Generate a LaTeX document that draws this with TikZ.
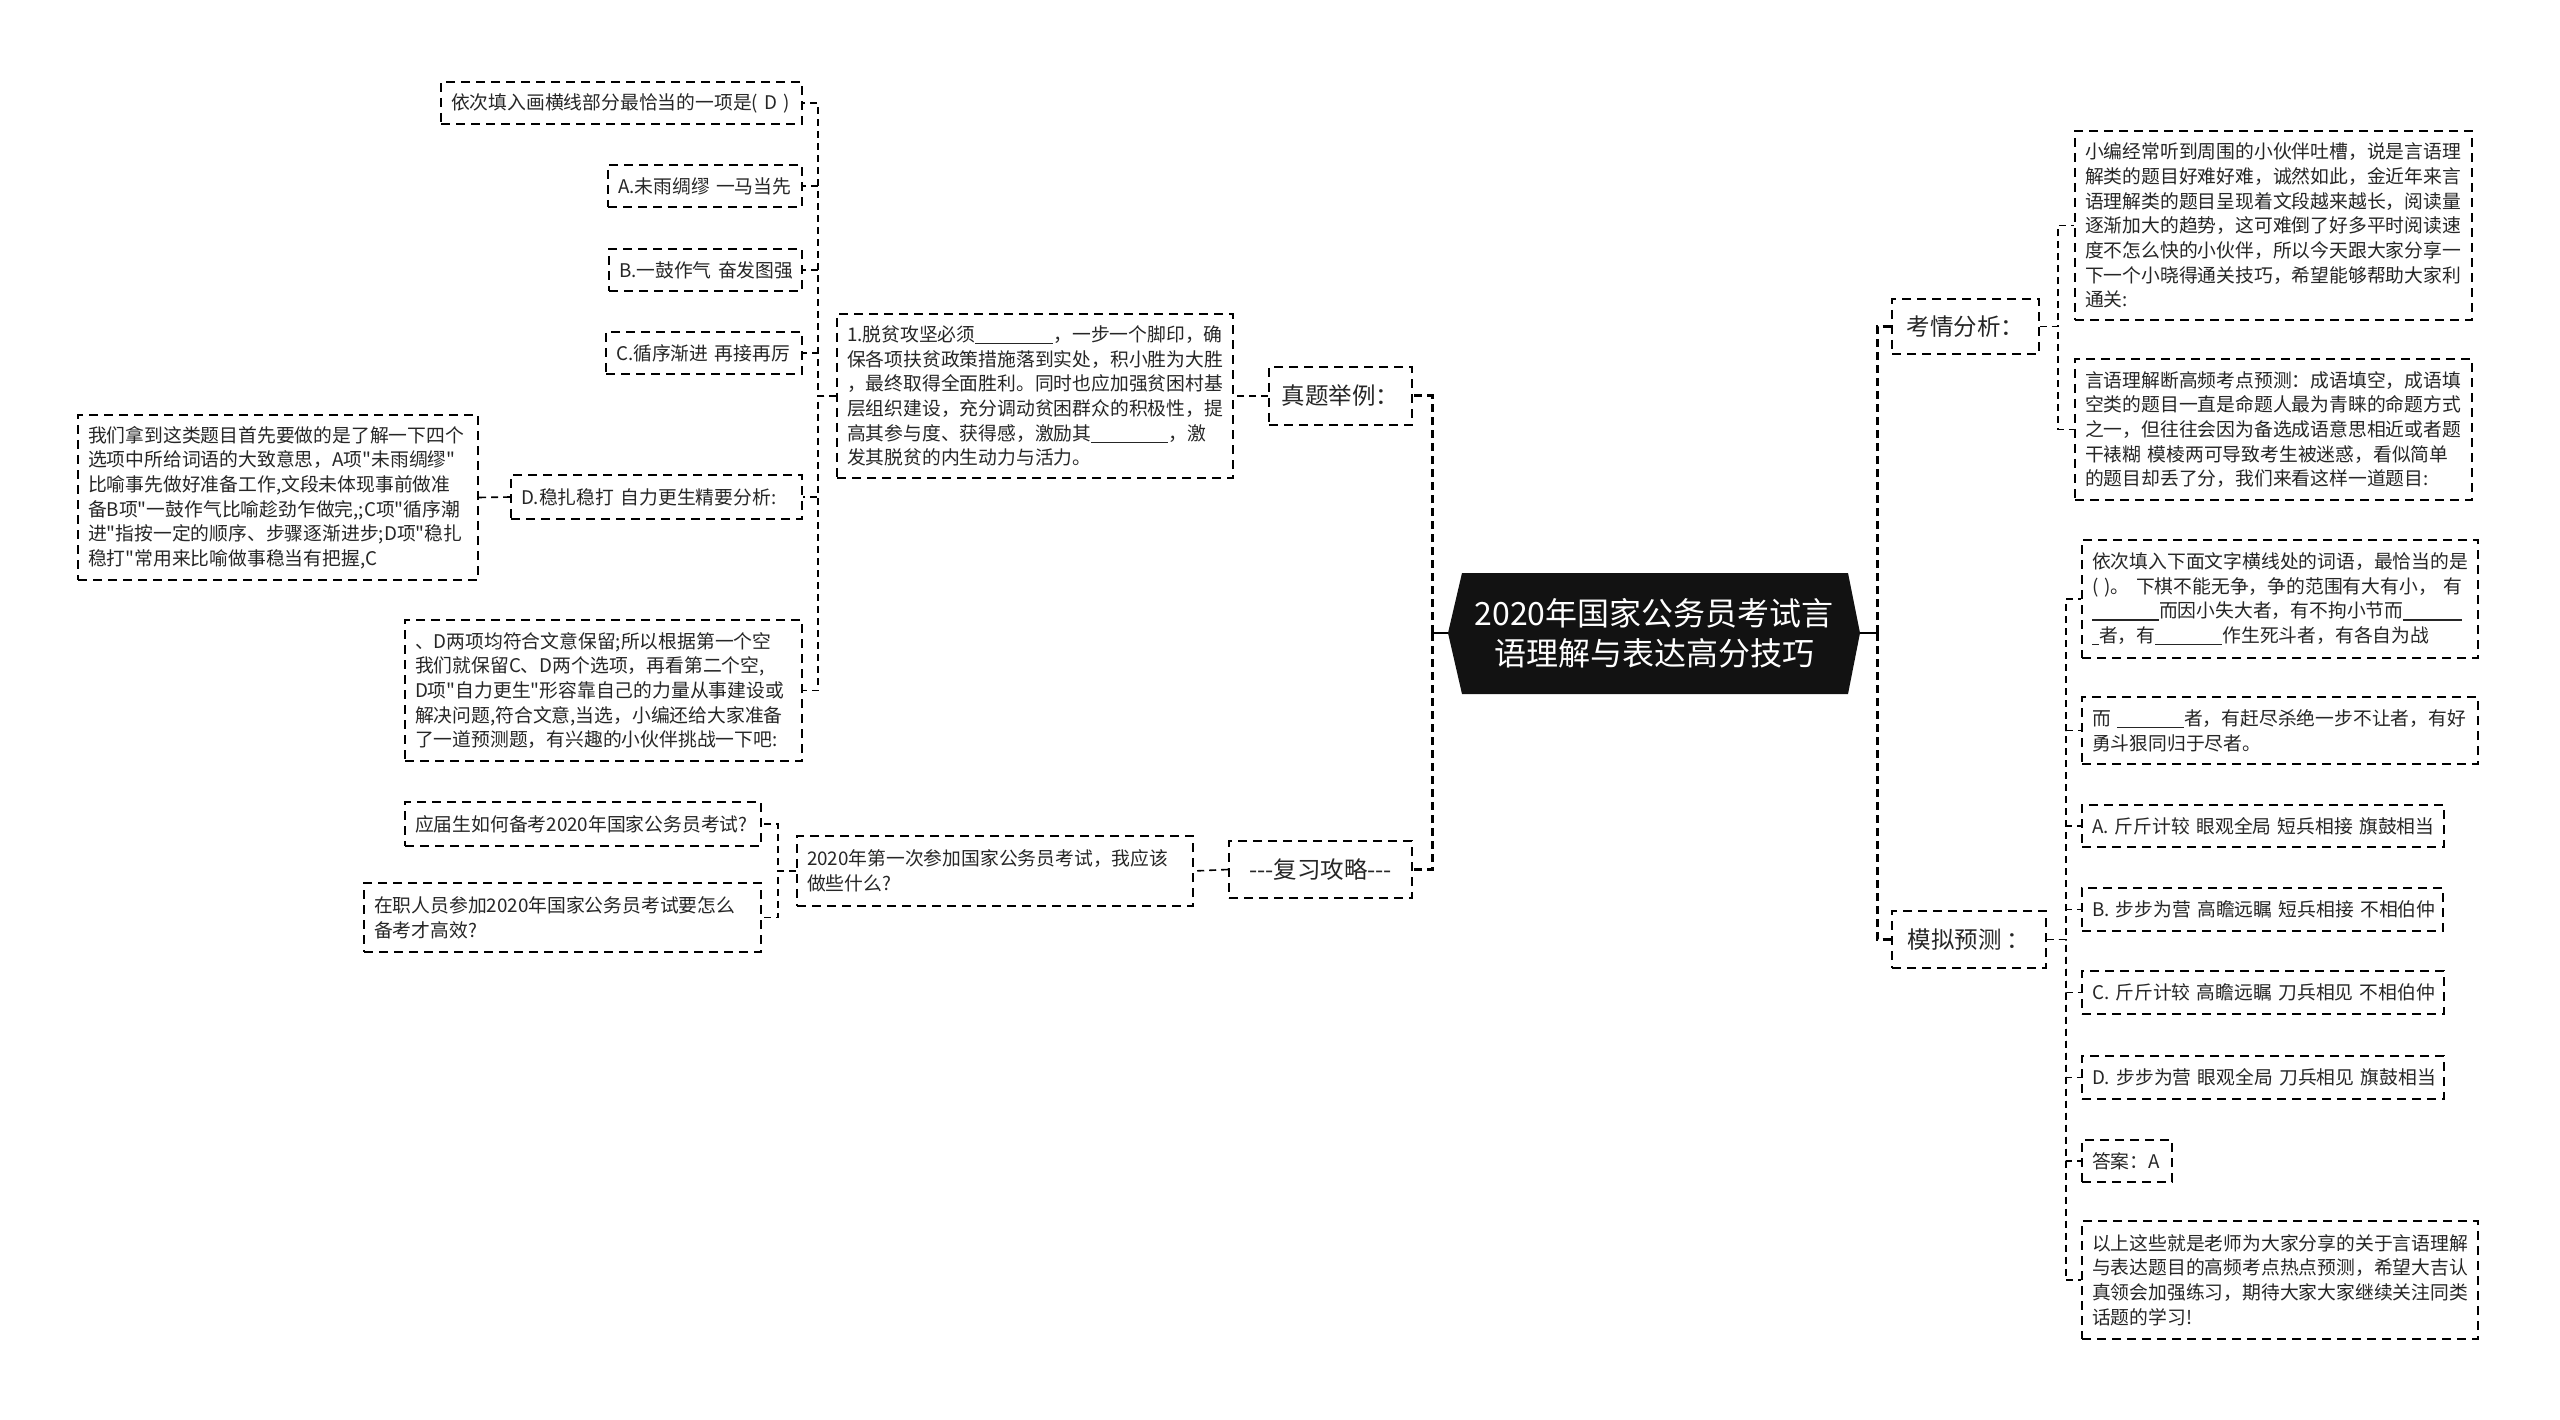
\documentclass[tikz,border=0pt]{standalone}
\usepackage{fontspec}
\setmainfont{Noto Sans CJK SC}
\newfontfamily\cjkf{Noto Sans CJK SC}
\newcommand{\blankln}[1]{\rule[-0.14em]{#1pt}{1.2pt}}
\begin{document}
\begin{tikzpicture}[x=1pt,y=-1pt,
  box/.style={draw=black, line width=1.6pt, dash pattern=on 9pt off 6pt, inner xsep=10pt, inner ysep=3pt,
    align=left, text=black!85, font=\cjkf\fontsize{18.8}{24.7}\selectfont},
  topic/.style={box, align=center, inner xsep=4pt, font=\cjkf\fontsize{23.5}{28}\selectfont},
  c2/.style={draw=black, line width=1.6pt, dash pattern=on 7pt off 5pt},
  c1/.style={draw=black, line width=3pt, dash pattern=on 8pt off 5pt},
  c0/.style={draw=black, line width=2.4pt}
]
\useasboundingbox (0,0) rectangle (2560,1420);
\fill[white] (0,0) rectangle (2560,1420);

% ---------- root ----------
\coordinate (rootW) at (1448,633);
\coordinate (rootE) at (1860,633);
\fill[black!93] (1462,573) -- (1848,573) -- (rootE) -- (1848,694) -- (1462,694) -- (rootW) -- cycle;
\node[font=\cjkf\fontsize{32}{40}\selectfont, text=white, align=center] (root) at (1654,633)
  {2020年国家公务员考试言\\语理解与表达高分技巧};

% ---------- left: 真题举例 ----------
\node[topic, minimum width=143pt, minimum height=58pt] (zt) at (1340.5,396) {真题举例：};
\node[box, text width=376pt, minimum height=164pt] (tp) at (1035,396)
  {1.脱贫攻坚必须\blankln{78}，一步一个脚印，确\\
   保各项扶贫政策措施落到实处，积小胜为大胜\\
   ，最终取得全面胜利。同时也应加强贫困村基\\
   层组织建设，充分调动贫困群众的积极性，提\\
   高其参与度、获得感，激励其\blankln{77}，激\\
   发其脱贫的内生动力与活力。};
\node[box, text width=341pt, minimum height=42pt] (q1) at (621.5,103) {\mbox{依次填入画横线部分最恰当的一项是( D )}};
\node[box, text width=174pt, minimum height=42pt] (qa) at (705,186) {\mbox{A.未雨绸缪 一马当先}};
\node[box, text width=173pt, minimum height=42pt] (qb) at (705.5,270) {\mbox{B.一鼓作气 奋发图强}};
\node[box, text width=176pt, minimum height=42pt] (qc) at (704,353) {\mbox{C.循序渐进 再接再厉}};
\node[box, text width=271pt, minimum height=44pt] (qd) at (656.5,497) {\mbox{D.稳扎稳打 自力更生精要分析:}};
\node[box, text width=380pt, minimum height=165pt] (an1) at (278,497.5)
  {我们拿到这类题目首先要做的是了解一下四个\\
   选项中所给词语的大致意思，A项"未雨绸缪"\\
   比喻事先做好准备工作,文段未体现事前做准\\
   备B项"一鼓作气比喻趁劲乍做完,;C项"循序潮\\
   进"指按一定的顺序、步骤逐渐进步;D项"稳扎\\
   稳打"常用来比喻做事稳当有把握,C};
\node[box, text width=377pt, minimum height=141pt] (an2) at (603.5,690.5)
  {、D两项均符合文意保留;所以根据第一个空\\
   我们就保留C、D两个选项，再看第二个空,\\
   D项"自力更生"形容靠自己的力量从事建设或\\
   解决问题,符合文意,当选，小编还给大家准备\\
   了一道预测题，有兴趣的小伙伴挑战一下吧:};

% ---------- left: 复习攻略 ----------
\node[topic, minimum width=183pt, minimum height=57pt] (fx) at (1320.5,869.5) {---复习攻略---};
\node[box, text width=376pt, minimum height=70pt] (fx1) at (995,871)
  {2020年第一次参加国家公务员考试，我应该\\做些什么?};
\node[box, text width=336pt, minimum height=44pt] (fx2) at (583,824) {\mbox{应届生如何备考2020年国家公务员考试?}};
\node[box, text width=377pt, minimum height=69pt] (fx3) at (562.5,917.5)
  {在职人员参加2020年国家公务员考试要怎么\\备考才高效?};

% ---------- right: 考情分析 ----------
\node[topic, minimum width=147pt, minimum height=55pt] (kq) at (1965.5,326.5) {考情分析：};
\node[box, text width=377pt, minimum height=189pt] (kq1) at (2273.5,225.5)
  {小编经常听到周围的小伙伴吐槽，说是言语理\\
   解类的题目好难好难，诚然如此，金近年来言\\
   语理解类的题目呈现着文段越来越长，阅读量\\
   逐渐加大的趋势，这可难倒了好多平时阅读速\\
   度不怎么快的小伙伴，所以今天跟大家分享一\\
   下一个小晓得通关技巧，希望能够帮助大家利\\
   通关:};
\node[box, text width=377pt, minimum height=141pt] (kq2) at (2273.5,429.5)
  {言语理解断高频考点预测：成语填空，成语填\\
   空类的题目一直是命题人最为青睐的命题方式\\
   之一，但往往会因为备选成语意思相近或者题\\
   \mbox{干裱糊 模棱两可导致考生被迷惑，看似简单}\\
   的题目却丢了分，我们来看这样一道题目:};

% ---------- right: 模拟预测 ----------
\node[topic, minimum width=154pt, minimum height=57pt] (mn) at (1969,939.5) {模拟预测 ：};
\node[box, text width=376pt, minimum height=118pt] (m1) at (2280,599)
  {依次填入下面文字横线处的词语，最恰当的是\\
   \mbox{( )。 下棋不能无争，争的范围有大有小， 有}\\
   \blankln{67}而因小失大者，有不拘小节而\blankln{59}\\
   \blankln{7}者，有\blankln{67}作生死斗者，有各自为战};
\node[box, text width=376pt, minimum height=67pt] (m2) at (2280,730.5)
  {\mbox{而 \blankln{67}者，有赶尽杀绝一步不让者，有好}\\勇斗狠同归于尽者。};
\node[box, text width=342pt, minimum height=42pt] (ma) at (2263,826) {\mbox{A. 斤斤计较 眼观全局 短兵相接 旗鼓相当}};
\node[box, text width=341pt, minimum height=43pt] (mb) at (2262.5,909.5) {\mbox{B. 步步为营 高瞻远瞩 短兵相接 不相伯仲}};
\node[box, text width=342pt, minimum height=43pt] (mc) at (2263,992.5) {\mbox{C. 斤斤计较 高瞻远瞩 刀兵相见 不相伯仲}};
\node[box, text width=342pt, minimum height=43pt] (md) at (2263,1077.5) {\mbox{D. 步步为营 眼观全局 刀兵相见 旗鼓相当}};
\node[box, text width=70pt, minimum height=42pt] (mans) at (2127,1161) {\mbox{答案：A}};
\node[box, text width=376pt, minimum height=118pt] (mend) at (2280,1280)
  {以上这些就是老师为大家分享的关于言语理解\\
   与表达题目的高频考点热点预测，希望大吉认\\
   真领会加强练习，期待大家大家继续关注同类\\
   话题的学习!};

% ---------- connectors: root to topics ----------
\coordinate (tL) at (1432,633);
\coordinate (tR) at (1877,633);
\draw[c0] (rootW) -- (tL);
\draw[c0] (rootE) -- (tR);
\draw[c1] (tL) |- (zt.east);
\draw[c1] (tL) |- (fx.east);
\draw[c1] (tR) |- (kq.west);
\draw[c1] (tR) |- (mn.west);

% ---------- connectors: level 2+ ----------
\draw[c2] (zt.west) -- (tp.east);
\foreach \n in {q1,qa,qb,qc,qd,an2}{
  \draw[c2] (tp.west) -- ++(-18,0) |- (\n.east);
}
\draw[c2] (qd.west) -- (an1.east);

\draw[c2] (fx.west) -- (fx1.east);
\foreach \n in {fx2,fx3}{
  \draw[c2] (fx1.west) -- ++(-18,0) |- (\n.east);
}

\foreach \n in {kq1,kq2}{
  \draw[c2] (kq.east) -- ++(18,0) |- (\n.west);
}
\foreach \n in {m1,m2,ma,mb,mc,md,mans,mend}{
  \draw[c2] (mn.east) -- ++(19,0) |- (\n.west);
}
\end{tikzpicture}
\end{document}
